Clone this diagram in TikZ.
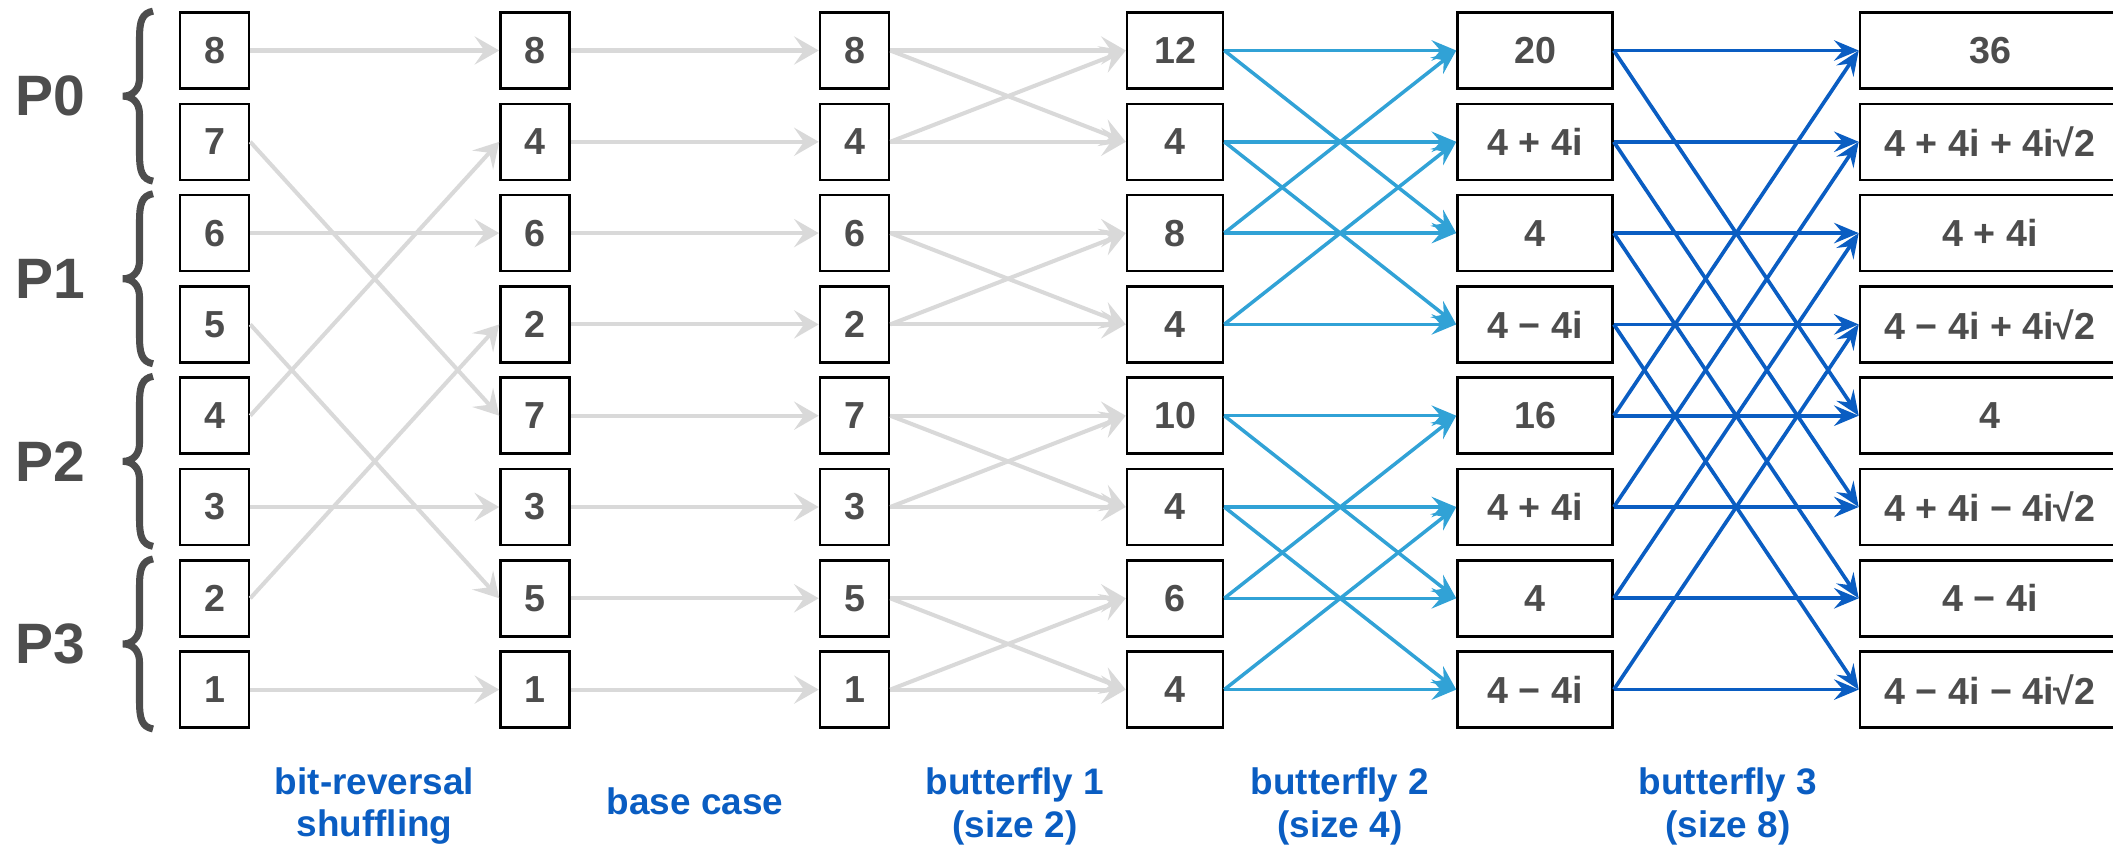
\documentclass[tikz,border=0pt]{standalone}
\usepackage{fontspec}
\setmainfont{Liberation Sans}
\usetikzlibrary{arrows.meta, positioning}

\definecolor{valgray}{HTML}{4D4D4D}
\definecolor{wiregray}{HTML}{D9D9D9}
\definecolor{flyblue}{HTML}{31A2D6}
\definecolor{deepblue}{HTML}{0A5DC2}

\begin{document}
\begin{tikzpicture}[x=0.01cm, y=-0.01cm,
  cell/.style={draw, line width=0.7pt, fill=white, minimum height=0.76cm, inner sep=0pt, text=valgray, font=\fontsize{10.7}{12}\selectfont\bfseries},
  slot/.style={cell, minimum width=0.69cm},
  grayarr/.style={draw=wiregray, line width=1.15pt, -{Stealth[length=7pt, width=8pt, inset=2.8pt]}},
  lightarr/.style={draw=flyblue, line width=1pt, -{Stealth[length=7pt, width=5.8pt, inset=2.5pt]}},
  darkarr/.style={draw=deepblue, line width=1.05pt, -{Stealth[length=7pt, width=5.8pt, inset=2.5pt]}},
  stage/.style={text=deepblue, align=center, font=\fontsize{10.5}{12.2}\selectfont\bfseries},
  proc/.style={text=valgray, font=\fontsize{16.2}{19}\selectfont\bfseries},
  bracket/.style={draw=valgray, line width=2pt}]

\useasboundingbox (0,0) rectangle (2113,846);

% the six columns of values
\foreach \v [count=\i] in {8,7,6,5,4,3,2,1}
  \node[slot] (a\i) at (214.5, {50.5+91.3*(\i-1)}) {\v};
\foreach \v [count=\i] in {8,4,6,2,7,3,5,1}
  \node[slot] (b\i) at (535, {50.5+91.3*(\i-1)}) {\v};
\foreach \v [count=\i] in {8,4,6,2,7,3,5,1}
  \node[slot] (c\i) at (854.5, {50.5+91.3*(\i-1)}) {\v};
\foreach \v [count=\i] in {12,4,8,4,10,4,6,4}
  \node[cell, minimum width=0.96cm] (d\i) at (1175, {50.5+91.3*(\i-1)}) {\v};
\foreach \v [count=\i] in {20,4 + 4i,4,4 − 4i,16,4 + 4i,4,4 − 4i}
  \node[cell, minimum width=1.55cm] (e\i) at (1535, {50.5+91.3*(\i-1)}) {\v};
\foreach \v [count=\i] in {36,4 + 4i + 4i√2,4 + 4i,4 − 4i + 4i√2,4,4 + 4i − 4i√2,4 − 4i,4 − 4i − 4i√2}
  \node[cell, minimum width=2.6cm] (f\i) at (1990, {50.5+91.3*(\i-1)}) {\v};

% processor groups
\foreach \k in {0,...,3} {
  \pgfmathsetmacro\yc{96.15+182.6*\k}
  \draw[bracket] (153,\yc-85) .. controls (142,\yc-83) and (139.5,\yc-75) .. (139.5,\yc-58)
    -- (139.5,\yc-18) .. controls (139.5,\yc-6) and (132,\yc) .. (123,\yc)
    .. controls (132,\yc) and (139.5,\yc+6) .. (139.5,\yc+18)
    -- (139.5,\yc+58) .. controls (139.5,\yc+75) and (142,\yc+83) .. (153,\yc+85);
  \node[proc] (p\k) at (50,\yc) {P\k};
}

% bit-reversal shuffle
\foreach \s/\t in {1/1,2/5,3/3,4/7,5/2,6/6,7/4,8/8}
  \draw[grayarr] (a\s.east) -- (b\t.west);
% base case
\foreach \i in {1,...,8}
  \draw[grayarr] (b\i.east) -- (c\i.west);
% butterflies of size 2, 4 and 8
\foreach \p/\q in {1/2,3/4,5/6,7/8}
  \foreach \s in {\p,\q}
    \foreach \t in {\p,\q}
      \draw[grayarr] (c\s.east) -- (d\t.west);
\foreach \p/\q in {1/3,2/4,5/7,6/8}
  \foreach \s in {\p,\q}
    \foreach \t in {\p,\q}
      \draw[lightarr] (d\s.east) -- (e\t.west);
\foreach \p/\q in {1/5,2/6,3/7,4/8}
  \foreach \s in {\p,\q}
    \foreach \t in {\p,\q}
      \draw[darkarr] (e\s.east) -- (f\t.west);

% stage captions
\node[stage] (shuf) at (374.5,806) {bit-reversal\\shuffling};
\node[stage] (base) at (695,801.5) {base case};
\node[stage] (bf1) at (1015,806) {butterfly 1\\(size 2)};
\node[stage] (bf2) at (1340,806) {butterfly 2\\(size 4)};
\node[stage] (bf3) at (1728,806) {butterfly 3\\(size 8)};
\end{tikzpicture}
\end{document}
